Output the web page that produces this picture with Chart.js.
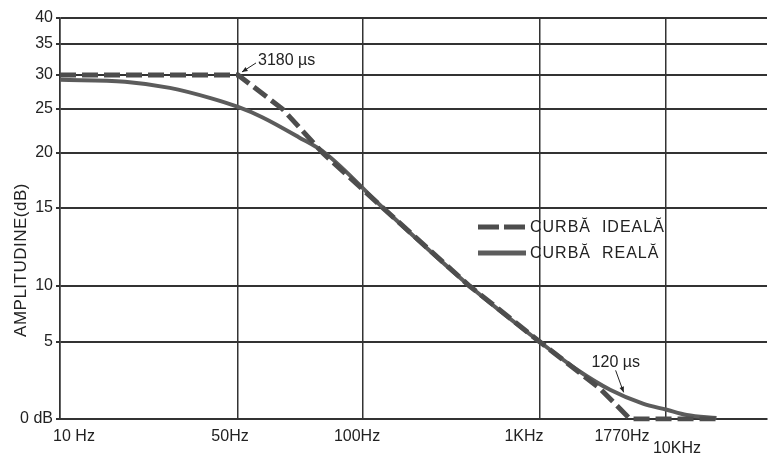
<!DOCTYPE html>
<html lang="ro">
<head>
    <meta charset="UTF-8">
    <title>Curba de redare</title>
    <script src="https://cdn.jsdelivr.net/npm/chart.js"></script>
    <style>
        html, body { margin: 0; padding: 0; background: #fff; }
        #chart-box { width: 770px; height: 453px; }
    </style>
</head>
<body>
    <div id="chart-box"><canvas id="myChart" width="770" height="453"></canvas></div>

    <script>
        // X axis ticks (Hz) and their labels
        var xTicks = [10, 50, 100, 1000, 1770, 10000];
        var xLabels = ['10 Hz', '50Hz', '100Hz', '1KHz', '1770Hz', '10KHz'];
        // Y axis ticks (dB) and their labels
        var yTicks = [0, 5, 10, 15, 20, 25, 30, 35, 40];
        var yLabels = ['0 dB', '5', '10', '15', '20', '25', '30', '35', '40'];

        // Ideal curve
        var idealHz = [10, 50, 64, 80, 130, 400, 1000, 1460, 1770, 20000];
        var idealDb = [30, 30, 25, 20, 15, 10, 5, 2, 0, 0];
        // Real curve
        var realHz = [10, 18, 27, 39, 50, 57, 70, 81, 130, 400, 1000, 1265, 1560, 3300, 10100, 13300, 20000];
        var realDb = [29.3, 29, 28.1, 26.6, 25.3, 24.1, 21.8, 20, 15, 10, 5, 3.2, 1.9, 1.0, 0.6, 0.26, 0.06];

        var FONT = "'Liberation Sans', Arial, sans-serif";
        var INK = '#222';

        // The paper axes are hand drawn: each tick sits at its own place,
        // between ticks the x axis is logarithmic and the y axis linear.
        var warp = {
            x: { log: true, knots: [[10, 0], [50, 0.2518], [100, 0.4286], [1000, 0.6789], [1770, 0.8062], [10000, 0.8571], [40000, 1]],
                 shift: [[14, 0], [-8, 0], [-6, 0], [-16, 0], [-8, 0], [11, 12]] },
            y: { log: false, knots: [[0, 0], [5, 0.192], [10, 0.3317], [15, 0.526], [20, 0.6633], [25, 0.773], [30, 0.858], [35, 0.935], [40, 1]] }
        };

        class WarpScale extends Chart.LinearScale {
            static id = 'warp';
            static defaults = {};
            determineDataLimits() {
                var k = warp[this.id].knots;
                this.min = k[0][0];
                this.max = k[k.length - 1][0];
            }
            buildTicks() {
                var vals = this.id === 'x' ? xTicks : yTicks;
                return vals.map(function (v) { return { value: v }; });
            }
            toDecimal(v) {
                var w = warp[this.id], k = w.knots;
                for (var i = 1; i < k.length; i++) {
                    if (v <= k[i][0] || i === k.length - 1) {
                        var a = k[i - 1], b = k[i];
                        var t = w.log ? Math.log(v / a[0]) / Math.log(b[0] / a[0]) : (v - a[0]) / (b[0] - a[0]);
                        return a[1] + t * (b[1] - a[1]);
                    }
                }
            }
            getPixelForValue(v) {
                return this.getPixelForDecimal(this.toDecimal(v));
            }
            getValueForPixel(p) {
                var w = warp[this.id], k = w.knots, d = this.getDecimalForPixel(p);
                for (var i = 1; i < k.length; i++) {
                    if (d <= k[i][1] || i === k.length - 1) {
                        var a = k[i - 1], b = k[i];
                        var t = (d - a[1]) / (b[1] - a[1]);
                        return w.log ? a[0] * Math.pow(b[0] / a[0], t) : a[0] + t * (b[0] - a[0]);
                    }
                }
            }
            _computeLabelItems(area) {
                var items = super._computeLabelItems(area);
                var sh = warp[this.id].shift;
                if (sh) {
                    items.forEach(function (it, i) {
                        var s = sh[i];
                        if (s) {
                            it.options.translation = [it.options.translation[0] + s[0], it.options.translation[1] + s[1]];
                        }
                    });
                }
                return items;
            }
        }
        Chart.register(WarpScale);

        function pairs(xs, ys) {
            return xs.map(function (x, i) { return { x: x, y: ys[i] }; });
        }

        // axis title, legend inside the plot and the two time constant notes
        var decor = {
            id: 'decor',
            afterDatasetsDraw: function (chart) {
                var ctx = chart.ctx, sx = chart.scales.x, sy = chart.scales.y;
                var ds = chart.data.datasets;
                ctx.save();
                ctx.fillStyle = INK;
                ctx.strokeStyle = INK;

                // y title
                ctx.save();
                ctx.translate(21, 260);
                ctx.rotate(-Math.PI / 2);
                ctx.font = '17px ' + FONT;
                ctx.letterSpacing = '0.5px';
                ctx.textAlign = 'center';
                ctx.textBaseline = 'middle';
                ctx.fillText('AMPLITUDINE(dB)', 0, 0);
                ctx.restore();

                // legend
                var lx = 478, rows = [227, 253];
                ds.forEach(function (d, i) {
                    ctx.save();
                    ctx.lineWidth = 5;
                    ctx.strokeStyle = d.borderColor;
                    ctx.setLineDash(d.borderDash && d.borderDash.length ? [21, 5] : []);
                    ctx.beginPath();
                    ctx.moveTo(lx, rows[i]);
                    ctx.lineTo(lx + 48, rows[i]);
                    ctx.stroke();
                    ctx.restore();
                    ctx.font = '16px ' + FONT;
                    ctx.letterSpacing = '1px';
                    ctx.textAlign = 'left';
                    ctx.textBaseline = 'middle';
                    ctx.fillText(d.label, lx + 52, rows[i] + 1);
                });

                // notes
                function note(text, hz, db, dx, dy, from, to) {
                    var px = sx.getPixelForValue(hz), py = sy.getPixelForValue(db);
                    ctx.font = '16px ' + FONT;
                    ctx.letterSpacing = '0px';
                    ctx.textAlign = 'left';
                    ctx.textBaseline = 'middle';
                    ctx.fillText(text, px + dx, py + dy);
                    var x0 = px + from[0], y0 = py + from[1], x1 = px + to[0], y1 = py + to[1];
                    ctx.lineWidth = 1;
                    ctx.beginPath();
                    ctx.moveTo(x0, y0);
                    ctx.lineTo(x1, y1);
                    ctx.stroke();
                    var ang = Math.atan2(y1 - y0, x1 - x0);
                    ctx.beginPath();
                    ctx.moveTo(x1, y1);
                    ctx.lineTo(x1 - 6 * Math.cos(ang - 0.4), y1 - 6 * Math.sin(ang - 0.4));
                    ctx.lineTo(x1 - 6 * Math.cos(ang + 0.4), y1 - 6 * Math.sin(ang + 0.4));
                    ctx.closePath();
                    ctx.fill();
                }
                note('3180 \u00b5s', 50, 30, 20, -14, [18, -12], [4, -3]);
                note('120 \u00b5s', 1700, 1.6, -32, -32, [-8, -24], [0, -2]);

                ctx.restore();
            }
        };

        var ctx = document.getElementById('myChart').getContext('2d');
        var myChart = new Chart(ctx, {
            type: 'line',
            data: {
                datasets: [
                    {
                        label: 'CURB\u0102  IDEAL\u0102',
                        data: pairs(idealHz, idealDb),
                        borderColor: '#4d4d4d',
                        borderWidth: 5,
                        borderDash: [16, 6],
                        pointRadius: 0,
                        tension: 0
                    },
                    {
                        label: 'CURB\u0102  REAL\u0102',
                        data: pairs(realHz, realDb),
                        borderColor: '#5c5c5c',
                        borderWidth: 4,
                        pointRadius: 0,
                        cubicInterpolationMode: 'monotone'
                    }
                ]
            },
            options: {
                responsive: false,
                animation: false,
                layout: { padding: { left: 0, right: 3, top: 18, bottom: 0 } },
                scales: {
                    x: {
                        type: 'warp',
                        afterFit: function (s) { s.height = 34; },
                        grid: {
                            color: function (c) { return c.tick && c.tick.value === 1770 ? 'rgba(0,0,0,0)' : '#333'; },
                            lineWidth: 1.5,
                            drawTicks: false
                        },
                        border: { color: '#333', width: 2 },
                        ticks: {
                            autoSkip: false,
                            maxRotation: 0,
                            padding: 8,
                            color: INK,
                            font: { family: FONT, size: 16 },
                            callback: function (v) { return xLabels[xTicks.indexOf(v)]; }
                        }
                    },
                    y: {
                        type: 'warp',
                        afterFit: function (s) { s.width = 60; },
                        grid: { color: '#333', lineWidth: 2, tickLength: 4 },
                        border: { color: '#333', width: 1.5 },
                        ticks: {
                            autoSkip: false,
                            padding: 3,
                            color: INK,
                            font: { family: FONT, size: 16 },
                            callback: function (v) { return yLabels[yTicks.indexOf(v)]; }
                        }
                    }
                },
                plugins: {
                    legend: { display: false },
                    tooltip: { enabled: false }
                }
            },
            plugins: [decor]
        });
    </script>
</body>
</html>
